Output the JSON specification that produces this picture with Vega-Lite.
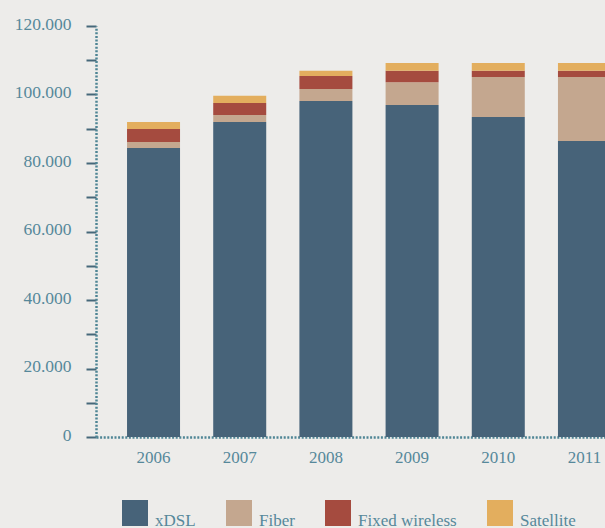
{
  "$schema": "https://vega.github.io/schema/vega-lite/v6.json",
  "autosize": {"type": "none"},
  "padding": {"left": 96, "top": 26, "right": 0, "bottom": 91},
  "width": 509,
  "height": 411,
  "background": "#edecea",
  "config": {
    "view": {"stroke": null},
    "font": "Liberation Serif"
  },
  "data": {
    "values": [
      {"year": "2006", "type": "xDSL", "rank": 1, "value": 84400},
      {"year": "2006", "type": "Fiber", "rank": 2, "value": 1700},
      {"year": "2006", "type": "Fixed wireless", "rank": 3, "value": 3800},
      {"year": "2006", "type": "Satellite", "rank": 4, "value": 2100},
      {"year": "2007", "type": "xDSL", "rank": 1, "value": 92000},
      {"year": "2007", "type": "Fiber", "rank": 2, "value": 2000},
      {"year": "2007", "type": "Fixed wireless", "rank": 3, "value": 3500},
      {"year": "2007", "type": "Satellite", "rank": 4, "value": 2100},
      {"year": "2008", "type": "xDSL", "rank": 1, "value": 98100},
      {"year": "2008", "type": "Fiber", "rank": 2, "value": 3500},
      {"year": "2008", "type": "Fixed wireless", "rank": 3, "value": 3800},
      {"year": "2008", "type": "Satellite", "rank": 4, "value": 1500},
      {"year": "2009", "type": "xDSL", "rank": 1, "value": 96900},
      {"year": "2009", "type": "Fiber", "rank": 2, "value": 6700},
      {"year": "2009", "type": "Fixed wireless", "rank": 3, "value": 3300},
      {"year": "2009", "type": "Satellite", "rank": 4, "value": 2300},
      {"year": "2010", "type": "xDSL", "rank": 1, "value": 93400},
      {"year": "2010", "type": "Fiber", "rank": 2, "value": 11700},
      {"year": "2010", "type": "Fixed wireless", "rank": 3, "value": 1800},
      {"year": "2010", "type": "Satellite", "rank": 4, "value": 2300},
      {"year": "2011", "type": "xDSL", "rank": 1, "value": 86400},
      {"year": "2011", "type": "Fiber", "rank": 2, "value": 18700},
      {"year": "2011", "type": "Fixed wireless", "rank": 3, "value": 1800},
      {"year": "2011", "type": "Satellite", "rank": 4, "value": 2300}
    ]
  },
  "mark": {"type": "bar"},
  "encoding": {
    "x": {
      "field": "year",
      "type": "ordinal",
      "scale": {"range": [0, 546], "paddingInner": 0.385, "paddingOuter": 0.36},
      "axis": {
        "title": null,
        "labelAngle": 0,
        "labelFont": "Liberation Serif",
        "labelFontSize": 17,
        "labelColor": "#56889a",
        "labelPadding": 12,
        "ticks": false,
        "domainColor": "#4f8595",
        "domainWidth": 2.5,
        "domainDash": [2, 1.6]
      }
    },
    "y": {
      "field": "value",
      "type": "quantitative",
      "stack": "zero",
      "scale": {"domain": [0, 120000], "nice": false},
      "axis": {
        "title": null,
        "values": [0, 10000, 20000, 30000, 40000, 50000, 60000, 70000, 80000, 90000, 100000, 110000, 120000],
        "labelExpr": "datum.value % 20000 === 0 ? replace(format(datum.value, ','), ',', '.') : ''",
        "labelFont": "Liberation Serif",
        "labelFontSize": 17.5,
        "labelColor": "#56889a",
        "labelPadding": 15,
        "labelOffset": -2,
        "tickSize": 10,
        "tickWidth": 2,
        "tickColor": "#46687a",
        "grid": false,
        "domainColor": "#4f8595",
        "domainWidth": 2.5,
        "domainDash": [2, 1.6]
      }
    },
    "color": {
      "field": "type",
      "type": "nominal",
      "scale": {
        "domain": ["xDSL", "Fiber", "Fixed wireless", "Satellite"],
        "range": ["#476379", "#c4a78f", "#a54b3f", "#e3ae5e"]
      },
      "legend": {
        "title": null,
        "orient": "none",
        "direction": "horizontal",
        "legendX": 26,
        "legendY": 474,
        "symbolType": "square",
        "symbolSize": 676,
        "symbolStrokeWidth": 0,
        "symbolOpacity": 1,
        "labelFont": "Liberation Serif",
        "labelFontSize": 17,
        "labelColor": "#56889a",
        "labelOffset": 7,
        "labelBaseline": "top",
        "columnPadding": 30
      }
    },
    "order": {"field": "rank", "type": "quantitative", "sort": "ascending"}
  }
}
